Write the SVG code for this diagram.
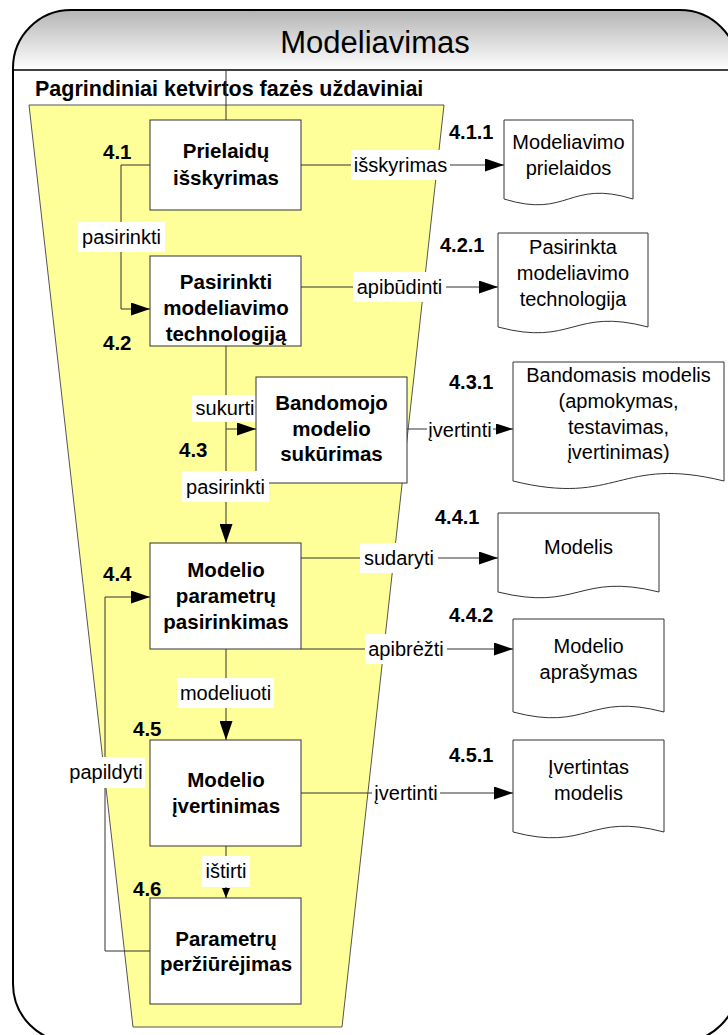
<svg xmlns="http://www.w3.org/2000/svg" width="728" height="1035" viewBox="0 0 728 1035">
  <defs>
    <linearGradient id="hdr" x1="0" y1="0" x2="0" y2="1">
      <stop offset="0" stop-color="#b4b4b4"/>
      <stop offset="1" stop-color="#ffffff"/>
    </linearGradient>
    <marker id="arr" viewBox="0 0 19 13" refX="19" refY="6.5" markerWidth="19" markerHeight="13" orient="auto" markerUnits="userSpaceOnUse">
      <path d="M0,0 L19,6.5 L0,13 Z" fill="#000"/>
    </marker>
    <marker id="arrM" viewBox="0 0 17 11" refX="17" refY="5.5" markerWidth="17" markerHeight="11" orient="auto" markerUnits="userSpaceOnUse">
      <path d="M0,0 L17,5.5 L0,11 Z" fill="#000"/>
    </marker>
    <marker id="arrS" viewBox="0 0 10 8" refX="10" refY="4" markerWidth="10" markerHeight="8" orient="auto" markerUnits="userSpaceOnUse">
      <path d="M0,0 L10,4 L0,8 Z" fill="#000"/>
    </marker>
  </defs>
  <style>
    text { font-family: "Liberation Sans", Arial, sans-serif; fill: #000; }
    .title { font-size: 31px; text-anchor: middle; }
    .phase { font-size: 21.5px; font-weight: bold; }
    .proc rect { fill: #fff; stroke: #333; stroke-width: 1; }
    .proc text { font-size: 20.5px; font-weight: bold; text-anchor: middle; }
    .num { font-size: 21px; font-weight: bold; }
    .dnum { font-size: 19px; font-weight: bold; }
    .doc path { fill: #fff; stroke: #333; stroke-width: 1; }
    .doc text { font-size: 20px; text-anchor: middle; }
    .ln { fill: none; stroke: #333; stroke-width: 1; }
    .lbl rect { fill: #fff; stroke: none; }
    .lbl text { font-size: 20px; text-anchor: middle; }
  </style>

  <!-- outer frame with gradient header -->
  <g id="frame">
    <rect x="13" y="10" width="725" height="1032" rx="58" ry="58" fill="#fff"/>
    <path d="M13,70 L13,68 A58,58 0 0 1 71,10 L680,10 A58,58 0 0 1 738,68 L738,70 Z" fill="url(#hdr)"/>
    <rect x="13" y="10" width="725" height="1032" rx="58" ry="58" fill="none" stroke="#000" stroke-width="2"/>
    <line x1="13" y1="70" x2="738" y2="70" stroke="#000" stroke-width="1.5"/>
    <text class="title" x="375" y="53">Modeliavimas</text>
  </g>

  <!-- phase funnel -->
  <g id="phase">
    <polygon points="29,105 444,105 342,1027 133,1027" fill="#ffff99" stroke="#555" stroke-width="1"/>
    <text class="phase" x="35" y="96">Pagrindiniai ketvirtos fazės uždaviniai</text>
  </g>

  <!-- connectors -->
  <g id="connectors">
    <line class="ln" x1="226" y1="70" x2="226" y2="120"/>
    <path class="ln" d="M150,165 L121,165 L121,309 L150,309" marker-end="url(#arr)"/>
    <path class="ln" d="M301,165 L504,165" marker-end="url(#arr)"/>
    <path class="ln" d="M301,287 L498,287" marker-end="url(#arr)"/>
    <path class="ln" d="M226,346 L226,543" marker-end="url(#arr)"/>
    <path class="ln" d="M226,429 L256,429" marker-end="url(#arr)"/>
    <path class="ln" d="M407,429 L513,429" marker-end="url(#arrM)"/>
    <path class="ln" d="M301,558 L498,558" marker-end="url(#arr)"/>
    <path class="ln" d="M301,649 L513,649" marker-end="url(#arr)"/>
    <path class="ln" d="M226,649 L226,740" marker-end="url(#arr)"/>
    <path class="ln" d="M301,793 L513,793" marker-end="url(#arr)"/>
    <path class="ln" d="M226,846 L226,898" marker-end="url(#arrS)"/>
    <path class="ln" d="M150,951 L105,951 L105,597 L150,597" marker-end="url(#arr)"/>

    <g class="lbl">
      <rect x="78" y="222" width="87" height="30"/><text x="121.5" y="244">pasirinkti</text>
      <rect x="351" y="150" width="99" height="30"/><text x="400.5" y="172">išskyrimas</text>
      <rect x="353" y="272" width="93" height="30"/><text x="399.5" y="294">apibūdinti</text>
      <rect x="192" y="395" width="64" height="27"/><text x="225" y="415">sukurti</text>
      <rect x="427" y="415" width="66" height="30"/><text x="460" y="437">įvertinti</text>
      <rect x="360" y="543" width="78" height="30"/><text x="399" y="565">sudaryti</text>
      <rect x="365" y="634" width="82" height="30"/><text x="406" y="656">apibrėžti</text>
      <rect x="177" y="678" width="97" height="30"/><text x="225.5" y="700">modeliuoti</text>
      <rect x="372" y="778" width="68" height="30"/><text x="406" y="800">įvertinti</text>
      <rect x="202" y="856" width="48" height="31"/><text x="226" y="878">ištirti</text>
      <rect x="67" y="757" width="78" height="31"/><text x="106" y="779">papildyti</text>
    </g>
  </g>

  <!-- process steps -->
  <g id="step-4-1" class="proc">
    <rect x="150" y="120" width="151" height="90"/>
    <text x="226" y="158">Prielaidų</text>
    <text x="226" y="185">išskyrimas</text>
    <text class="num" x="103" y="158.5" style="text-anchor:start">4.1</text>
  </g>
  <g id="step-4-2" class="proc">
    <rect x="150" y="256" width="151" height="90"/>
    <text x="226" y="289">Pasirinkti</text>
    <text x="226" y="315">modeliavimo</text>
    <text x="226" y="341">technologiją</text>
    <text class="num" x="103" y="349.5" style="text-anchor:start">4.2</text>
  </g>
  <g id="step-4-3" class="proc">
    <rect x="256" y="377" width="151" height="106"/>
    <text x="331.5" y="410">Bandomojo</text>
    <text x="331.5" y="436">modelio</text>
    <text x="331.5" y="461">sukūrimas</text>
    <text class="num" x="179" y="456.5" style="text-anchor:start">4.3</text>
  </g>
  <g id="step-4-4" class="proc">
    <rect x="150" y="543" width="151" height="106"/>
    <text x="226" y="577">Modelio</text>
    <text x="226" y="603">parametrų</text>
    <text x="226" y="629">pasirinkimas</text>
    <text class="num" x="103" y="580.5" style="text-anchor:start">4.4</text>
  </g>
  <g id="step-4-5" class="proc">
    <rect x="150" y="740" width="151" height="106"/>
    <text x="226" y="787">Modelio</text>
    <text x="226" y="813">įvertinimas</text>
    <text class="num" x="133" y="735.5" style="text-anchor:start">4.5</text>
  </g>
  <g id="step-4-6" class="proc">
    <rect x="150" y="898" width="151" height="106"/>
    <text x="226" y="946">Parametrų</text>
    <text x="226" y="971">peržiūrėjimas</text>
    <text class="num" x="133" y="895.5" style="text-anchor:start">4.6</text>
  </g>

  <!-- second pasirinkti label sits over the 4.3 box edge -->
  <g id="label-pasirinkti-2" class="lbl">
    <rect x="182" y="471" width="87" height="31"/><text x="225.5" y="494">pasirinkti</text>
  </g>

  <!-- output documents -->
  <g id="doc-4-1-1" class="doc">
    <path d="M504,120 L633,120 L633,199 C568.5,179 568.5,219 504,199 Z"/>
    <text x="568.5" y="149">Modeliavimo</text>
    <text x="568.5" y="175">prielaidos</text>
    <text class="dnum" x="449" y="139" style="text-anchor:start">4.1.1</text>
  </g>
  <g id="doc-4-2-1" class="doc">
    <path d="M498,233 L648,233 L648,327 C573,307 573,347 498,327 Z"/>
    <text x="573" y="254">Pasirinkta</text>
    <text x="573" y="280">modeliavimo</text>
    <text x="573" y="306">technologija</text>
    <text class="dnum" x="440" y="252" style="text-anchor:start">4.2.1</text>
  </g>
  <g id="doc-4-3-1" class="doc">
    <path d="M513,362 L724,362 L724,481 C618.5,455 618.5,507 513,481 Z"/>
    <text x="618.5" y="382">Bandomasis modelis</text>
    <text x="618.5" y="408">(apmokymas,</text>
    <text x="618.5" y="434">testavimas,</text>
    <text x="618.5" y="459">įvertinimas)</text>
    <text class="dnum" x="449" y="389" style="text-anchor:start">4.3.1</text>
  </g>
  <g id="doc-4-4-1" class="doc">
    <path d="M498,513 L659,513 L659,592 C578.5,572 578.5,612 498,592 Z"/>
    <text x="578.5" y="554">Modelis</text>
    <text class="dnum" x="435" y="524" style="text-anchor:start">4.4.1</text>
  </g>
  <g id="doc-4-4-2" class="doc">
    <path d="M513,619 L664,619 L664,712 C588.5,692 588.5,732 513,712 Z"/>
    <text x="588.5" y="653">Modelio</text>
    <text x="588.5" y="679">aprašymas</text>
    <text class="dnum" x="449" y="622" style="text-anchor:start">4.4.2</text>
  </g>
  <g id="doc-4-5-1" class="doc">
    <path d="M513,740 L664,740 L664,832 C588.5,812 588.5,852 513,832 Z"/>
    <text x="588.5" y="774">Įvertintas</text>
    <text x="588.5" y="800">modelis</text>
    <text class="dnum" x="449" y="762" style="text-anchor:start">4.5.1</text>
  </g>
</svg>
